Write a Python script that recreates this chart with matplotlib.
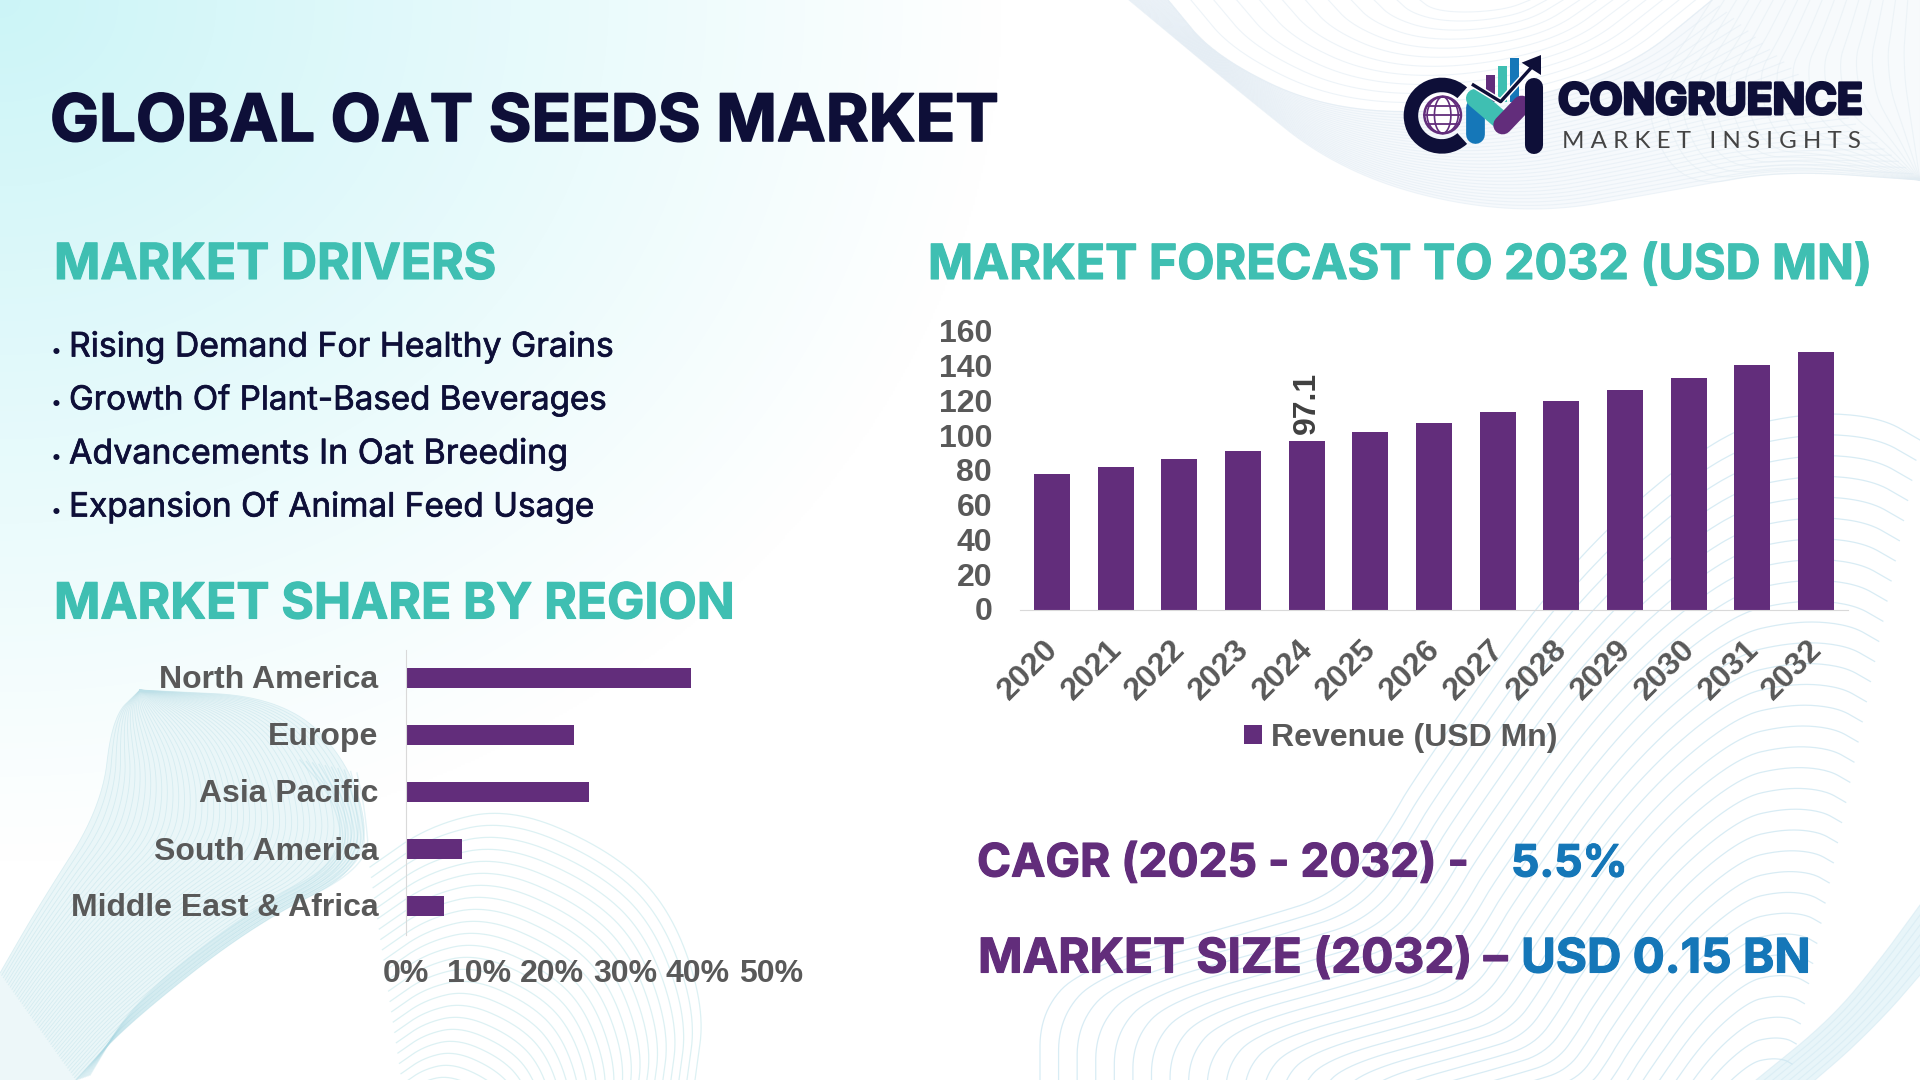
import numpy as np
import matplotlib
matplotlib.use('Agg')
from matplotlib import pyplot as plt
from matplotlib import patheffects as pe
from matplotlib.patches import Wedge, Circle, Rectangle, Polygon
from matplotlib.transforms import ScaledTranslation

# data
regions = ['North America', 'Europe', 'Asia Pacific', 'South America', 'Middle East & Africa']
region_share = [39.0, 23.0, 25.0, 7.7, 5.2]
share_ticks = [0, 10, 20, 30, 40, 50]

years = ['2020', '2021', '2022', '2023', '2024', '2025', '2026', '2027', '2028', '2029', '2030', '2031', '2032']
revenue = [78.3, 82.4, 87.0, 91.7, 97.1, 102.4, 107.9, 113.9, 120.2, 126.8, 133.7, 141.0, 148.7]
revenue_labels = ['', '', '', '', '97.1', '', '', '', '', '', '', '', '']
revenue_ticks = [0, 20, 40, 60, 80, 100, 120, 140, 160]

drivers = ['Rising Demand For Healthy Grains', 'Growth Of Plant-Based Beverages',
           'Advancements In Oat Breeding', 'Expansion Of Animal Feed Usage']

NAVY = '#0E0F38'
TEAL = '#3FBFB2'
PURPLE = '#622D7B'
BLUE = '#1577B8'
GREY = '#595959'
HEAD_FONT = ['Inter', 'Lato', 'DejaVu Sans']
CHART_FONT = ['Liberation Sans', 'DejaVu Sans']

W, H = 1920, 1080
fig = plt.figure(figsize=(19.2, 10.8), dpi=100)
bg = fig.add_axes([0, 0, 1, 1], zorder=0)
bg.set_xlim(0, W)
bg.set_ylim(H, 0)
bg.axis('off')
renderer = fig.canvas.get_renderer()


def px_axes(left, top, right, bottom):
    ax = fig.add_axes([left / W, 1 - bottom / H, (right - left) / W, (bottom - top) / H], zorder=1)
    ax.patch.set_alpha(0)
    return ax


def fit_text(x0, x1, base, s, color, family=HEAD_FONT, weight='bold', stroke=0.0):
    t = bg.text(x0, base, s, color=color, family=family, weight=weight, size=20,
                ha='left', va='baseline')
    w = t.get_window_extent(renderer).width
    t.set_size(20 * (x1 - x0) / w)
    if stroke:
        t.set_path_effects([pe.withStroke(linewidth=stroke, foreground=color)])
    return t


def nudge(labels, dx_px, dy_px):
    off = ScaledTranslation(dx_px / 100.0, -dy_px / 100.0, fig.dpi_scale_trans)
    for lab in labels:
        lab.set_transform(lab.get_transform() + off)


def smooth(points, n=240):
    p = np.array(points, dtype=float)
    for _ in range(4):
        q = 0.75 * p[:-1] + 0.25 * p[1:]
        r = 0.25 * p[:-1] + 0.75 * p[1:]
        p = np.vstack([p[0], np.column_stack([q, r]).reshape(-1, 2), p[-1]])
    d = np.r_[0, np.cumsum(np.hypot(*np.diff(p, axis=0).T))]
    s = np.linspace(0, d[-1], n)
    return np.column_stack([np.interp(s, d, p[:, 0]), np.interp(s, d, p[:, 1])])


def band(edge_a, edge_b, count, color, fill=None, lw=0.8, alpha=0.6):
    a, b = smooth(edge_a), smooth(edge_b)
    if fill:
        bg.add_patch(Polygon(np.vstack([a, b[::-1]]), fc=fill, ec='none', zorder=1))
    for f in np.linspace(0, 1, count):
        c = a * (1 - f) + b * f
        bg.plot(c[:, 0], c[:, 1], color=color, lw=lw, alpha=alpha, zorder=2)


def dome(points, center, count, color, low=0.15, lw=0.9, alpha=0.6):
    a = smooth(points)
    center = np.array(center, dtype=float)
    for s in np.linspace(1, low, count):
        c = center + (a - center) * s
        bg.plot(c[:, 0], c[:, 1], color=color, lw=lw, alpha=alpha, zorder=2)


# background wash in the top left corner
yy, xx = np.mgrid[0:H:2, 0:W:2]
dist = np.sqrt((xx / 1000.0) ** 2 + (yy / 860.0) ** 2)
wash = np.clip(1 - dist, 0, 1)
img = np.ones(xx.shape + (3,))
tint = np.array([0.80, 0.96, 0.97])
for i in range(3):
    img[:, :, i] = 1 - (1 - tint[i]) * wash
bg.imshow(img, extent=(0, W, H, 0), aspect='auto', zorder=0, interpolation='bilinear')
bg.set_xlim(0, W)
bg.set_ylim(H, 0)

# top right waves
tr_low = [(1129, 0), (1225, 80), (1346, 177), (1518, 217), (1675, 190), (1780, 170), (1920, 180)]
tr_up = [(1168, 0), (1215, 57), (1325, 110), (1466, 113), (1623, 73), (1712, 0), (1712, 0)]
band(tr_low, tr_up, 30, '#E2ECF4', fill='#F6F9FC', alpha=0.55)
band(tr_up, [(1420, 0), (1430, 8), (1450, 12), (1480, 12), (1510, 8), (1530, 0), (1530, 0)], 12, '#E2ECF4', alpha=0.6)
band([(1712, 0), (1680, 50), (1640, 100), (1680, 190), (1780, 170), (1920, 180)],
     [(1920, 0), (1920, 30), (1920, 60), (1920, 90), (1920, 130), (1920, 180)], 18, '#E2ECF2', fill='#F7FAFC', alpha=0.5)

# bottom left waves
dome([(370, 867), (430, 825), (510, 807), (610, 850), (670, 907), (705, 1007), (695, 1080)],
     (420, 1200), 30, '#C6E8EC', low=0.1, alpha=0.6)
bg.add_patch(Polygon([(0, 973), (76, 1080), (0, 1080)], fc='#EDF7F9', ec='none', zorder=1))
band([(140, 690), (112, 717), (102, 807), (38, 907), (0, 973)],
     [(140, 690), (287, 697), (357, 773), (370, 867), (255, 923), (128, 1023), (76, 1080)],
     46, '#BCE0E8', fill='#EAF6F8', lw=0.6, alpha=0.45)
band([(300, 760), (335, 800), (345, 860), (250, 910), (135, 1000), (90, 1075)],
     [(357, 773), (365, 810), (370, 867), (255, 923), (128, 1023), (76, 1080)],
     10, '#A9D8E3', lw=1.0, alpha=0.3)

# bottom right waves
dome([(1040, 1080), (1040, 1013), (1082, 967), (1254, 920), (1340, 893), (1389, 823), (1413, 780),
      (1563, 567), (1716, 433), (1808, 412), (1880, 417), (1920, 440)],
     (1760, 1220), 32, '#C8E4F0', low=0.2, alpha=0.7)
band([(1920, 905), (1880, 960), (1830, 1020), (1756, 1080)],
     [(1920, 975), (1890, 1010), (1850, 1050), (1815, 1080)], 8, '#CFE7F1', fill='#E8F5F9', alpha=0.5)

# headings and text
fit_text(50, 1000, 141, 'GLOBAL OAT SEEDS MARKET', NAVY, stroke=1.2)
fit_text(54, 497, 279, 'MARKET DRIVERS', TEAL, stroke=0.8)
fit_text(54, 736, 618.5, 'MARKET SHARE BY REGION', TEAL, stroke=0.8)
fit_text(928, 1873, 279, 'MARKET FORECAST TO 2032 (USD MN)', TEAL, stroke=0.8)

base_y = [356.5, 409.5, 463.5, 516.5]
end_x = [614, 607, 568, 594]
for s, y, x1 in zip(drivers, base_y, end_x):
    bg.text(51, y, '\u2022', color=NAVY, size=14, family=HEAD_FONT, va='baseline')
    fit_text(69, x1, y, s, NAVY, weight='normal', stroke=0.5)

fit_text(977, 1469, 876.5, 'CAGR (2025 - 2032) -', PURPLE, stroke=0.8)
fit_text(1511, 1627, 876.5, '5.5%', BLUE, stroke=0.8)
fit_text(978, 1508, 972.5, 'MARKET SIZE (2032) \u2013', PURPLE, stroke=0.8)
fit_text(1521, 1811, 972.5, 'USD 0.15 BN', BLUE, stroke=0.8)

# logo
fit_text(1558, 1863, 114, 'CONGRUENCE', NAVY, stroke=2.2)
fit_text(1562, 1860, 148.5, 'M A R K E T   I N S I G H T S', '#444444', family=['Lato', 'DejaVu Sans'], weight='normal')


def zx(v):
    return 1380 + v / 3.0


def zy(v):
    return 30 + v / 3.0


bg.add_patch(Wedge((zx(185), zy(257)), 38, 48, 312, width=14.5, fc=NAVY, ec='none', zorder=5))
gx, gy, gr = zx(188), zy(255), 18.3
bg.add_patch(Circle((gx, gy), gr, fc='white', ec=PURPLE, lw=1.8, zorder=5))
for dy in (-9, 0, 9):
    half = np.sqrt(gr ** 2 - dy ** 2)
    bg.plot([gx - half, gx + half], [gy + dy, gy + dy], color=PURPLE, lw=1.3, zorder=6)
t = np.linspace(-np.pi / 2, np.pi / 2, 40)
for k in (-1, -0.45, 0.45, 1):
    bg.plot(gx + k * gr * np.cos(t) * (1 if abs(k) < 1 else 0.85), gy + gr * np.sin(t), color=PURPLE, lw=1.2, zorder=6)

for x0, x1, top, col in [(318, 345, 135, PURPLE), (354, 382, 108, TEAL), (390, 416, 83, BLUE)]:
    bg.add_patch(Rectangle((zx(x0), zy(top)), (x1 - x0) / 3.0, (215 - top) / 3.0, fc=col, ec='none', zorder=5))


def logo_line(pts, col, lw, z=6):
    p = np.array(pts, dtype=float)
    bg.plot(zx(p[:, 0]), zy(p[:, 1]), color=col, lw=lw, solid_capstyle='round', solid_joinstyle='miter', zorder=z)


logo_line([(286, 232), (286, 312)], BLUE, 13.5, 6)
logo_line([(286, 205), (368, 275)], TEAL, 13.5, 7)
logo_line([(368, 285), (425, 225)], PURPLE, 13.5, 7)
logo_line([(463, 170), (463, 345)], NAVY, 13, 8)
bg.plot(zx(np.array([280, 362, 452])), zy(np.array([165, 215, 115])), color='white', lw=4.5, zorder=8)
bg.plot(zx(np.array([280, 362, 452])), zy(np.array([165, 215, 115])), color=NAVY, lw=2.4, zorder=9)
bg.add_patch(Polygon([(zx(483), zy(75)), (zx(425), zy(98)), (zx(483), zy(135))], fc=NAVY, ec='none', zorder=9))

# region share chart
ax1 = px_axes(406, 649.5, 771, 934.5)
y_pos = np.arange(len(regions))
ax1.barh(y_pos, region_share, height=0.35, color=PURPLE)
ax1.set_ylim(len(regions) - 0.5, -0.5)
ax1.set_xlim(0, 50)
ax1.set_yticks(y_pos)
ax1.set_yticklabels(regions)
ax1.set_xticks(share_ticks)
ax1.set_xticklabels(['%d%%' % v for v in share_ticks])
ax1.tick_params(axis='both', length=0, labelsize=23, labelcolor=GREY)
ax1.tick_params(axis='y', pad=20)
ax1.tick_params(axis='x', pad=18)
for lab in ax1.get_xticklabels() + ax1.get_yticklabels():
    lab.set_family(CHART_FONT)
    lab.set_weight('bold')
nudge(ax1.get_yticklabels(), 0, -1)
for name in ('top', 'right', 'bottom'):
    ax1.spines[name].set_visible(False)
ax1.spines['left'].set_color('#D9D9D9')

# forecast chart
ax2 = px_axes(1020, 332, 1848, 610)
x_pos = np.arange(len(years))
bars = ax2.bar(x_pos, revenue, width=0.566, color=PURPLE, label='Revenue (USD Mn)')
value_labels = ax2.bar_label(bars, labels=revenue_labels, rotation=90, padding=5, color='#404040',
                             fontsize=23, fontweight='bold', family=CHART_FONT)
nudge(value_labels, 2, 0)
ax2.set_xlim(-0.5, len(years) - 0.5)
ax2.set_ylim(0, 160)
ax2.set_yticks(revenue_ticks)
ax2.set_xticks(x_pos)
ax2.set_xticklabels(years, rotation=45, ha='right', rotation_mode='anchor')
ax2.tick_params(axis='both', length=0, labelsize=23, labelcolor=GREY)
ax2.tick_params(axis='y', pad=20)
ax2.tick_params(axis='x', pad=16)
for lab in ax2.get_xticklabels() + ax2.get_yticklabels():
    lab.set_family(CHART_FONT)
    lab.set_weight('bold')
nudge(ax2.get_xticklabels(), -9, 2)
nudge(ax2.get_yticklabels(), 0, -1)
for name in ('top', 'right', 'left'):
    ax2.spines[name].set_visible(False)
ax2.spines['bottom'].set_color('#D9D9D9')
leg = ax2.legend(loc='center', bbox_to_anchor=(1401, 738), bbox_transform=bg.transData, frameon=False,
                 handlelength=0.55, handleheight=0.55, handletextpad=0.3,
                 prop={'family': CHART_FONT, 'weight': 'bold', 'size': 23}, labelcolor=GREY)

fig.savefig('out.png', dpi=100)
